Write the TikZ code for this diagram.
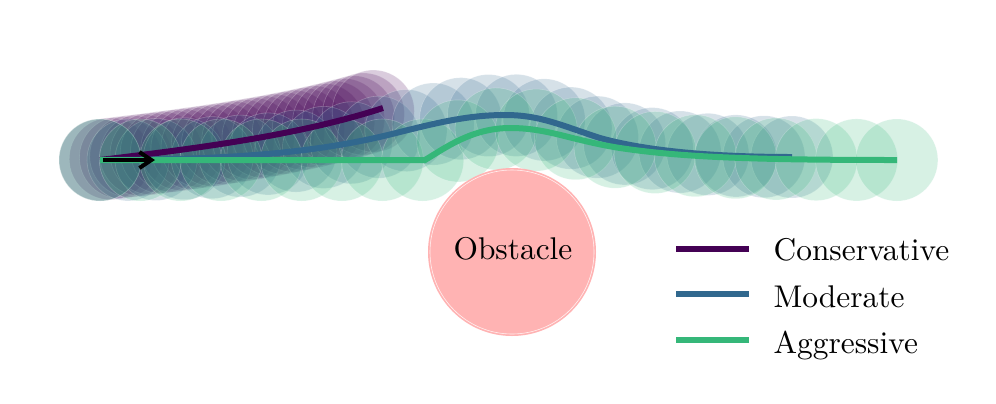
\documentclass[tikz,border=0pt]{standalone}
\usetikzlibrary{decorations.markings,arrows.meta}
\definecolor{cons}{HTML}{440154}
\definecolor{mod}{HTML}{31688E}
\definecolor{agg}{HTML}{35B779}
\definecolor{obst}{HTML}{FFB3B3}
\begin{document}
\begin{tikzpicture}[x=0.5pt,y=-0.5pt,
  bubble/.style={fill=#1, fill opacity=0.2, draw=white, draw opacity=0.25, line width=0.3pt},
  traj/.style={draw=#1, line width=3pt},
  txt/.style={font=\normalsize, transform shape, scale=1.57, inner sep=0pt},
  lbl/.style={txt, anchor=base west}]
\useasboundingbox (0,0) rectangle (996,403);
\coordinate (s) at (100,160);
\coordinate (ce) at (383,108);
\coordinate (me) at (792,157);
\coordinate (ge) at (897,160);
\coordinate (gk) at (425,160);
% bubbles
\path[decorate, decoration={markings, mark=between positions 0 and 1 step 0.03570 with {\path[bubble=cons] (0,0) circle[radius=20.5pt];}}]
  (s) .. controls (200,148) and (300,135) .. (ce);
\path[decorate, decoration={markings, mark=between positions 0 and 1 step 0.03999 with {\path[bubble=mod] (0,0) circle[radius=20.5pt];}}]
  (s) .. controls (250,160) and (330,150) .. (400,132) .. controls (440,122) and (470,115) .. (505,115) .. controls (540,115) and (560,125) .. (600,138) .. controls (650,152) and (720,157) .. (me);
\path[decorate, decoration={markings, mark=between positions 0 and 1 step 0.04999 with {\path[bubble=agg] (0,0) circle[radius=20.5pt];}}]
  (s) -- (gk) .. controls (445,148) and (472,128) .. (510,128) .. controls (548,128) and (570,140) .. (620,148) .. controls (680,157) and (750,160) .. (ge);
% obstacle
\node[circle, fill=obst, minimum size=84pt, inner sep=0pt] (obs) at (512,252) {};
\draw[white, line width=0.3pt, opacity=0.8] (obs.center) circle[radius=41pt];
\node[txt, anchor=base] (obslbl) at (513,259) {Obstacle};
% trajectories
\draw[traj=cons] (s) .. controls (200,148) and (300,135) .. (ce);
\draw[traj=mod] (s) .. controls (250,160) and (330,150) .. (400,132) .. controls (440,122) and (470,115) .. (505,115) .. controls (540,115) and (560,125) .. (600,138) .. controls (650,152) and (720,157) .. (me);
\draw[traj=agg] (s) -- (gk) .. controls (445,148) and (472,128) .. (510,128) .. controls (548,128) and (570,140) .. (620,148) .. controls (680,157) and (750,160) .. (ge);
% heading arrow
\coordinate (a0) at (103,160);
\coordinate (a1) at (155,160);
\draw[black, line width=2pt, -{Straight Barb[length=6pt,width=8pt]}] (a0) -- (a1);
% legend
\coordinate (l1a) at (676,249); \coordinate (l1b) at (749,249);
\coordinate (l2a) at (676,294); \coordinate (l2b) at (749,294);
\coordinate (l3a) at (676,340); \coordinate (l3b) at (749,340);
\draw[traj=cons] (l1a) -- (l1b);
\draw[traj=mod] (l2a) -- (l2b);
\draw[traj=agg] (l3a) -- (l3b);
\node[lbl] (t1) at (773,260) {Conservative};
\node[lbl] (t2) at (773,307) {Moderate};
\node[lbl] (t3) at (773,353) {Aggressive};
\end{tikzpicture}
\end{document}
